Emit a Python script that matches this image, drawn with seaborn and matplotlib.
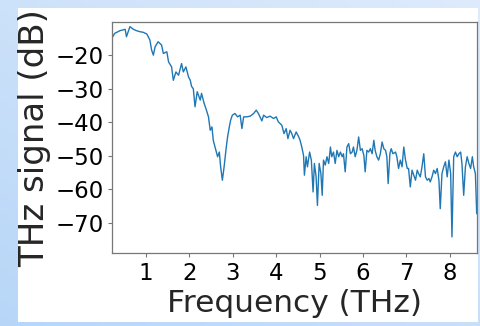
import numpy as np
import pandas as pd
import matplotlib
matplotlib.use("Agg")
import matplotlib.pyplot as plt
from matplotlib.patches import Rectangle
import seaborn as sns

# Frequency (THz) and THz signal (dB)
freq = [0.21, 0.28, 0.40, 0.52, 0.55, 0.63, 0.71, 0.78, 0.86, 0.94,
        1.02, 1.09, 1.13, 1.17, 1.21, 1.28, 1.36, 1.40, 1.48, 1.52,
        1.59, 1.63, 1.69, 1.75, 1.82, 1.86, 1.92, 1.98, 2.02, 2.05,
        2.09, 2.13, 2.18, 2.25, 2.28, 2.34, 2.38, 2.44, 2.48, 2.52,
        2.55, 2.59, 2.65, 2.69, 2.72, 2.76, 2.80, 2.85, 2.88, 2.92,
        2.95, 2.99, 3.05, 3.11, 3.17, 3.21, 3.25, 3.32, 3.40, 3.48,
        3.54, 3.59, 3.67, 3.71, 3.78, 3.86, 3.94, 4.00, 4.05, 4.13,
        4.18, 4.23, 4.27, 4.32, 4.36, 4.40, 4.46, 4.52, 4.55, 4.59,
        4.63, 4.65, 4.69, 4.72, 4.77, 4.81, 4.85, 4.88, 4.92, 4.95,
        4.99, 5.03, 5.06, 5.09, 5.13, 5.17, 5.21, 5.25, 5.28, 5.32,
        5.36, 5.40, 5.44, 5.48, 5.52, 5.55, 5.59, 5.63, 5.67, 5.71,
        5.75, 5.78, 5.82, 5.86, 5.90, 5.94, 5.98, 6.02, 6.05, 6.09,
        6.13, 6.17, 6.21, 6.25, 6.28, 6.32, 6.36, 6.40, 6.44, 6.48,
        6.52, 6.55, 6.58, 6.62, 6.65, 6.69, 6.75, 6.78, 6.82, 6.86,
        6.90, 6.94, 6.98, 7.02, 7.05, 7.09, 7.13, 7.17, 7.21, 7.25,
        7.28, 7.32, 7.36, 7.40, 7.44, 7.48, 7.52, 7.55, 7.59, 7.63,
        7.67, 7.71, 7.75, 7.78, 7.82, 7.86, 7.90, 7.94, 7.98, 8.02,
        8.05, 8.09, 8.13, 8.17, 8.21, 8.25, 8.28, 8.32, 8.36, 8.40,
        8.44, 8.48, 8.52, 8.55, 8.59, 8.62]

signal = [-15.0, -13.5, -12.7, -12.3, -14.5, -11.5, -12.3, -12.7, -13.0, -13.2,
          -13.7, -15.5, -18.5, -20.0, -17.5, -16.0, -17.0, -19.5, -19.0, -22.0,
          -23.5, -27.5, -25.0, -26.0, -22.5, -25.0, -23.5, -26.5, -27.5, -29.3,
          -30.0, -35.4, -30.9, -33.4, -31.4, -34.4, -35.9, -38.4, -42.4, -41.4,
          -45.4, -47.4, -50.3, -48.9, -53.3, -57.3, -53.3, -47.4, -44.4, -41.4,
          -39.4, -37.9, -37.4, -38.4, -37.9, -41.9, -38.4, -38.4, -38.2, -37.4,
          -36.4, -37.4, -39.6, -37.9, -38.6, -38.2, -38.9, -38.4, -39.9, -40.9,
          -43.4, -41.9, -44.9, -42.4, -43.4, -44.9, -42.9, -44.4, -45.4, -47.4,
          -49.9, -55.8, -50.3, -53.3, -48.9, -51.3, -60.8, -52.3, -56.3, -64.8,
          -52.3, -55.3, -61.8, -51.3, -52.8, -50.3, -52.3, -47.4, -50.3, -48.9,
          -52.3, -48.4, -50.3, -48.9, -50.3, -49.4, -54.8, -47.4, -46.4, -49.4,
          -48.9, -47.4, -50.3, -48.4, -44.4, -48.4, -47.9, -49.9, -54.8, -48.4,
          -48.9, -47.9, -49.4, -45.4, -48.4, -50.3, -51.3, -49.4, -45.9, -47.9,
          -48.4, -50.3, -58.3, -49.4, -47.9, -49.4, -48.9, -50.3, -53.8, -51.3,
          -53.3, -47.4, -51.3, -53.8, -53.8, -59.3, -54.3, -55.8, -57.3, -54.3,
          -55.3, -56.3, -53.3, -49.4, -56.3, -57.3, -56.8, -57.8, -56.3, -54.3,
          -55.3, -53.8, -57.3, -65.8, -55.3, -53.3, -51.8, -56.3, -51.3, -55.3,
          -74.2, -50.3, -48.9, -50.3, -49.4, -48.9, -52.3, -61.8, -53.3, -50.3,
          -52.3, -53.8, -50.3, -53.3, -55.3, -67.3]

xticks = [1, 2, 3, 4, 5, 6, 7, 8]
yticks = [-20, -30, -40, -50, -60, -70]

df = pd.DataFrame({"Frequency (THz)": freq, "THz signal (dB)": signal})

sns.set_theme(style="ticks")
plt.rcParams["font.family"] = ["DejaVu Sans"]

W, H = 481, 326
fig = plt.figure(figsize=(W / 100, H / 100), dpi=100)

# light-blue gradient backdrop with a white panel
bg = fig.add_axes([0, 0, 1, 1], zorder=-5)
gx = np.linspace(0, 1, 64)[None, :]
gy = np.linspace(0, 1, 64)[:, None]
t = np.clip(0.45 * gx + 0.55 * (1 - gy), 0, 1)  # 0 = dark (bottom-left), 1 = light (top-right)
dark = np.array([0.72, 0.84, 0.97])
light = np.array([0.87, 0.92, 0.99])
img = dark[None, None, :] * (1 - t[..., None]) + light[None, None, :] * t[..., None]
bg.imshow(img, extent=[0, 1, 0, 1], aspect="auto", origin="upper")
bg.add_patch(Rectangle((18 / W, (H - 322) / H), (478 - 18) / W, (322 - 8) / H,
                       transform=bg.transAxes, facecolor="white", edgecolor="none"))
bg.set_xlim(0, 1)
bg.set_ylim(0, 1)
bg.axis("off")

ax = fig.add_axes([111.7 / W, (H - 253.3) / H, (476.7 - 111.7) / W, (253.3 - 22.3) / H])
ax.set_facecolor("white")
sns.lineplot(data=df, x="Frequency (THz)", y="THz signal (dB)", ax=ax,
             color="#1f77b4", linewidth=1.0, estimator=None)

ax.set_xlim(freq[0], freq[-1])
ax.set_ylim(-79.1, -10.2)
ax.set_xticks(xticks)
ax.set_yticks(yticks)
ax.set_xticklabels([str(v) for v in xticks])
ax.set_yticklabels(["\u2212" + str(-v) for v in yticks])
ax.tick_params(axis="both", labelsize=16.5, length=3, width=0.8, color="#777777",
               labelcolor="black", pad=3)
ax.set_xlabel("Frequency (THz)", fontsize=22.5, labelpad=3)
ax.set_ylabel("THz signal (dB)", fontsize=24.5, labelpad=3)
for s in ax.spines.values():
    s.set_visible(True)
    s.set_color("#777777")
    s.set_linewidth(0.9)

fig.savefig("out.png", dpi=100)
